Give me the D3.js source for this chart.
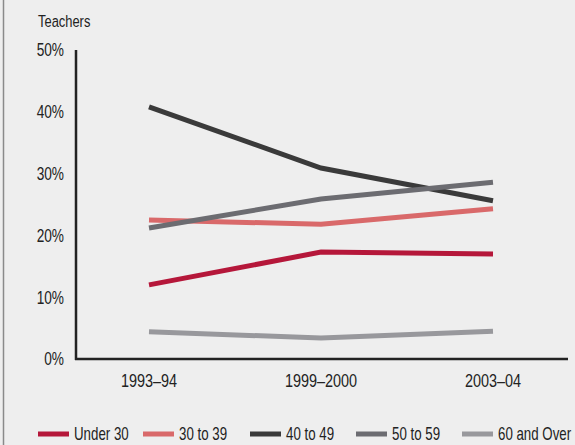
<!DOCTYPE html>
<html><head><meta charset="utf-8">
<script src="https://cdn.jsdelivr.net/npm/d3@7"></script>
<style>
html,body{margin:0;padding:0;background:#eeeeee;}
svg{display:block;}
text{font-family:"Liberation Sans",Arial,sans-serif;fill:#222;}
</style></head>
<body>
<svg id="chart" width="575" height="445"></svg>
<script>
const years = ["1993–94", "1999–2000", "2003–04"];
const seriesNames = ["Under 30", "30 to 39", "40 to 49", "50 to 59", "60 and Over"];
const under30 = [12.0, 17.3, 17.0];
const age30to39 = [22.5, 21.8, 24.3];
const age40to49 = [40.8, 30.9, 25.6];
const age50to59 = [21.2, 25.9, 28.6];
const age60plus = [4.4, 3.4, 4.5];
const yTicks = [0, 10, 20, 30, 40, 50];
const colors = ["#b5173a", "#d9696a", "#3a3a3a", "#6c6c71", "#98989c"];
const seriesValues = [under30, age30to39, age40to49, age50to59, age60plus];

const SX = 0.76; // horizontal condensing of text
const svg = d3.select("#chart");
// left frame line
svg.append("line").attr("x1",3.5).attr("x2",3.5).attr("y1",0).attr("y2",445)
  .attr("stroke","#8a8a8a").attr("stroke-width",1.5);

const x = d3.scalePoint().domain(years).range([149, 493]);
const y = d3.scaleLinear().domain([0, 50]).range([359, 50]);

// y axis line
svg.append("line").attr("x1",76).attr("x2",76).attr("y1",y(50)).attr("y2",y(0)+1)
  .attr("stroke","#222").attr("stroke-width",2.5);
// x axis line
svg.append("line").attr("x1",75).attr("x2",568).attr("y1",y(0)).attr("y2",y(0))
  .attr("stroke","#222").attr("stroke-width",2.5);

// y tick labels
svg.append("g").selectAll("text").data(yTicks).join("text")
  .attr("transform",d=>`translate(64,${y(d)}) scale(${SX},1)`)
  .attr("dy","0.36em").attr("text-anchor","end")
  .style("font-size","18px").text(d=>d+"%");

// x labels
svg.append("g").selectAll("text").data(years).join("text")
  .attr("transform",d=>`translate(${x(d)},387) scale(${SX},1)`)
  .attr("text-anchor","middle")
  .style("font-size","19px").text(d=>d);

svg.append("text").attr("transform",`translate(38,27) scale(${SX},1)`)
  .style("font-size","17px").text("Teachers");

const line = d3.line().x((d,i)=>x(years[i])).y(d=>y(d));
svg.append("g").selectAll("path").data(seriesValues).join("path")
  .attr("d",d=>line(d)).attr("fill","none")
  .attr("stroke",(d,i)=>colors[i]).attr("stroke-width",5).attr("stroke-linecap","butt");

// legend
const legendX = [38, 143, 250, 356, 462];
const lg = svg.append("g").selectAll("g").data(seriesNames).join("g")
  .attr("transform",(d,i)=>`translate(${legendX[i]},434)`);
lg.append("line").attr("x1",0).attr("x2",31).attr("y1",0).attr("y2",0)
  .attr("stroke",(d,i)=>colors[i]).attr("stroke-width",5);
lg.append("text").attr("transform",`translate(36,0) scale(${SX},1)`).attr("dy","0.36em")
  .style("font-size","17.5px").text(d=>d);
</script>
</body></html>
